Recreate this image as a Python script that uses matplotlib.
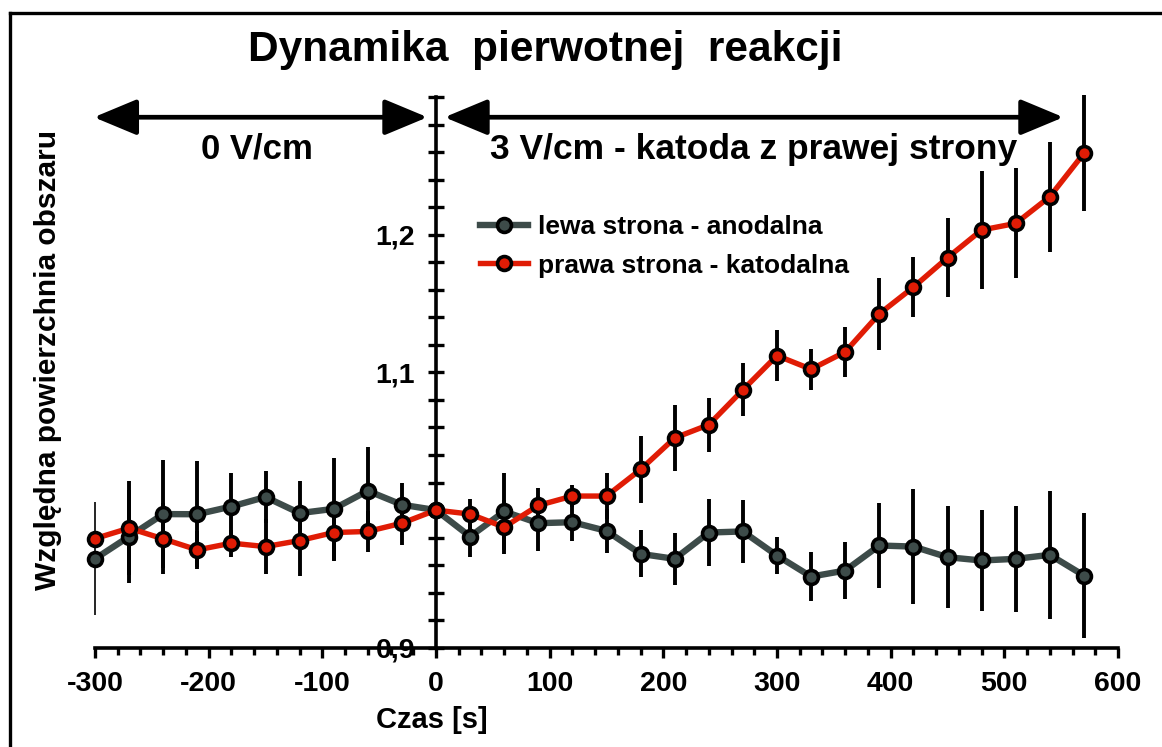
import matplotlib
matplotlib.use("Agg")
import matplotlib.pyplot as plt
from matplotlib.patches import FancyArrowPatch
from matplotlib.ticker import MultipleLocator, FixedLocator, FixedFormatter
from matplotlib.lines import Line2D

# ---- data -------------------------------------------------------------
czas = [-300, -270, -240, -210, -180, -150, -120, -90, -60, -30, 0,
        30, 60, 90, 120, 150, 180, 210, 240, 270, 300,
        330, 360, 390, 420, 450, 480, 510, 540, 570]

lewa = [0.9646, 0.9808, 0.9971, 0.9970, 1.0026, 1.0095, 0.9978, 1.0009, 1.0140, 1.0039, 1.0000,
        0.9808, 0.9990, 0.9905, 0.9912, 0.9849, 0.9682, 0.9646, 0.9837, 0.9845, 0.9670,
        0.9517, 0.9561, 0.9743, 0.9735, 0.9658, 0.9634, 0.9646, 0.9675, 0.9525]
lewa_err = [0.041, 0.034, 0.0395, 0.0383, 0.0242, 0.0187, 0.0235, 0.0368, 0.0315, 0.016, 0.0,
            0.0145, 0.028, 0.020, 0.0136, 0.0162, 0.017, 0.019, 0.0245, 0.0228, 0.0133,
            0.018, 0.0205, 0.031, 0.0418, 0.037, 0.037, 0.0383, 0.0464, 0.0454]

prawa = [0.9793, 0.9869, 0.9791, 0.9711, 0.9760, 0.9735, 0.9779, 0.9837, 0.9845, 0.9905, 1.0000,
         0.9971, 0.9876, 1.0034, 1.0102, 1.0102, 1.0295, 1.0524, 1.0620, 1.0873, 1.1122,
         1.1023, 1.1149, 1.1425, 1.1619, 1.1833, 1.2034, 1.2082, 1.2276, 1.2591]
prawa_err = [0.0, 0.034, 0.0257, 0.014, 0.0097, 0.020, 0.0257, 0.0206, 0.015, 0.016, 0.0,
             0.011, 0.0196, 0.0126, 0.0078, 0.0167, 0.0245, 0.0242, 0.0196, 0.0192, 0.0186,
             0.015, 0.018, 0.026, 0.022, 0.0287, 0.043, 0.040, 0.040, 0.042]

y_ticks_labeled = [0.9, 1.1, 1.2]
y_tick_labels = ["0,9", "1,1", "1,2"]
x_tick_values = [-300, -200, -100, 0, 100, 200, 300, 400, 500, 600]

label_lewa = "lewa strona - anodalna"
label_prawa = "prawa strona - katodalna"

# ---- style ------------------------------------------------------------
plt.rcParams["font.family"] = ["Liberation Sans", "DejaVu Sans"]
plt.rcParams["font.weight"] = "bold"
plt.rcParams["axes.unicode_minus"] = False

GRAY = "#3d4b49"
RED = "#e01c05"

W, H = 1162, 747
fig = plt.figure(figsize=(W / 100, H / 100), dpi=100)

def fx(px):
    return px / W

def fy(py):
    return 1 - py / H

ax = fig.add_axes([fx(95), fy(647.8), fx(1118) - fx(95), fy(97) - fy(647.8)])
ax.set_xlim(-300, 600)
ax.set_ylim(0.9, 1.3)
ax.patch.set_visible(False)

# axes: y spine through t = 0, x spine at the bottom
for s in ("top", "right"):
    ax.spines[s].set_visible(False)
ax.spines["left"].set_position(("data", 0))
ax.spines["left"].set_linewidth(2.6)
ax.spines["bottom"].set_linewidth(2.6)
ax.spines["left"].set_zorder(1)
ax.spines["bottom"].set_zorder(6)

# x ticks
ax.xaxis.set_major_locator(FixedLocator(x_tick_values))
ax.xaxis.set_minor_locator(MultipleLocator(20))
ax.tick_params(axis="x", which="major", direction="out", length=7, width=2.4,
               labelsize=20.5, pad=10)
ax.tick_params(axis="x", which="minor", direction="out", length=5, width=2.4)

# y ticks (every 0.02, crossing the spine)
ax.yaxis.set_major_locator(FixedLocator(y_ticks_labeled))
ax.yaxis.set_major_formatter(FixedFormatter(y_tick_labels))
ax.yaxis.set_minor_locator(MultipleLocator(0.02))
ax.tick_params(axis="y", which="major", direction="inout", length=12, width=2.4,
               labelsize=20.5, pad=9)
ax.tick_params(axis="y", which="minor", direction="inout", length=12, width=2.4)
for lab in ax.get_xticklabels() + ax.get_yticklabels():
    lab.set_fontweight("bold")

# series lines
ax.plot(czas, lewa, color=GRAY, lw=4.6, zorder=2, clip_on=False, solid_joinstyle="round")
ax.plot(czas, prawa, color=RED, lw=3.9, zorder=2.2, clip_on=False, solid_joinstyle="round")

# error bars
eb1 = ax.errorbar(czas, lewa, yerr=lewa_err, fmt="none", ecolor="black",
                  elinewidth=2.8, capsize=0, zorder=3)
eb2 = ax.errorbar(czas, prawa, yerr=prawa_err, fmt="none", ecolor="black",
                  elinewidth=2.8, capsize=0, zorder=3)
lw_list = [1.2] + [2.8] * (len(czas) - 1)
eb1[2][0].set_linewidths(lw_list)
for c in (eb1[2][0], eb2[2][0]):
    c.set_clip_on(False)

# markers
ax.plot(czas, lewa, ls="none", marker="o", ms=10, mfc=GRAY, mec="black", mew=2.6,
        zorder=4, clip_on=False)
ax.plot(czas, prawa, ls="none", marker="o", ms=10, mfc=RED, mec="black", mew=2.6,
        zorder=4.2, clip_on=False)

# legend
h1 = Line2D([], [], color=GRAY, lw=4.6, marker="o", ms=10, mfc=GRAY, mec="black", mew=2.6)
h2 = Line2D([], [], color=RED, lw=3.9, marker="o", ms=10, mfc=RED, mec="black", mew=2.6)
leg = ax.legend([h1, h2], [label_lewa, label_prawa], loc="upper left",
                bbox_to_anchor=(fx(480), fy(215)), bbox_transform=fig.transFigure,
                frameon=False, fontsize=19, handlelength=1.8, handletextpad=0.4,
                labelspacing=0.55, borderpad=0, borderaxespad=0)
for t in leg.get_texts():
    t.set_fontweight("bold")

# axis labels and title
fig.text(fx(48), fy(360), "Względna powierzchnia obszaru", rotation=90,
         ha="center", va="center", fontsize=21.5, fontweight="bold")
fig.text(fx(432), fy(720), "Czas [s]", ha="center", va="center",
         fontsize=21, fontweight="bold")
fig.text(fx(545), fy(50), "Dynamika  pierwotnej  reakcji", ha="center", va="center",
         fontsize=30.5, fontweight="bold")

# field-phase arrows and annotations
y_arrow = 1.2853
for x0, x1 in ((-301, -7.5), (7.5, 552)):
    arr = FancyArrowPatch((x0, y_arrow), (x1, y_arrow), transform=ax.transData,
                          arrowstyle="<|-|>,head_length=1.2,head_width=0.5",
                          mutation_scale=22, lw=3.4, color="black",
                          shrinkA=0, shrinkB=0, clip_on=False, zorder=5)
    ax.add_patch(arr)

fig.text(fx(257), fy(149), "0 V/cm", ha="center", va="center",
         fontsize=25, fontweight="bold")
fig.text(fx(754), fy(149), "3 V/cm - katoda z prawej strony", ha="center",
         va="center", fontsize=25.5, fontweight="bold")

# outer frame (left and top edges)
fig.add_artist(Line2D([fx(10), fx(10)], [fy(13), 0], color="black", lw=2.4,
                      transform=fig.transFigure))
fig.add_artist(Line2D([fx(10), 1], [fy(13), fy(13)], color="black", lw=2.4,
                      transform=fig.transFigure))

fig.savefig("out.png", dpi=100)
